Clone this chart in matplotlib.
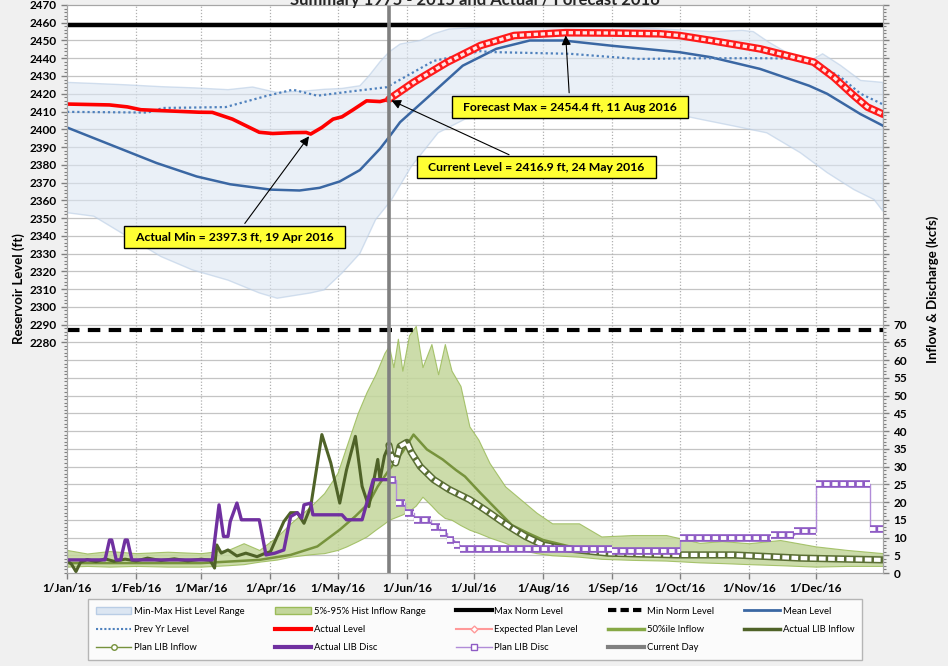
import numpy as np
import pandas as pd
import matplotlib
matplotlib.use("Agg")
import matplotlib.pyplot as plt
import matplotlib.dates as mdates
from matplotlib.patches import Patch
from matplotlib.lines import Line2D

plt.rcParams['font.family'] = ['Lato', 'DejaVu Sans']

def d(s):
    return pd.to_datetime('2016/' + s)

def dates(lst):
    return [d(s) for s in lst]

# ---- reservoir level (ft) ----
mean_dates = ['1/1', '1/20', '2/10', '2/28', '3/14', '4/1', '4/14', '4/23', '5/2', '5/11', '5/20',
              '5/24', '5/29', '6/11', '6/26', '7/11', '7/26', '8/10', '9/1', '10/1', '10/15',
              '11/6', '11/28', '12/6', '12/21', '12/31']
mean_level = [2401, 2391.5, 2381, 2373.4, 2369, 2366, 2365.5, 2367, 2370.6, 2377, 2389,
              2395.5, 2404, 2418.7, 2435.8, 2445.3, 2450, 2450, 2447, 2443.4, 2440.6,
              2434, 2424.5, 2420, 2408.5, 2402]

prev_dates = ['1/1', '2/6', '2/13', '3/12', '3/30', '4/11', '4/22', '5/7', '5/23', '6/13', '7/4',
              '7/8', '8/13', '9/12', '10/10', '11/10', '11/28', '12/12', '12/21', '12/31']
prev_level = [2409.8, 2409.4, 2412, 2412.5, 2418.7, 2422.3, 2418.9, 2421.3, 2423.7, 2438.5, 2444,
              2443.5, 2442.5, 2439.6, 2440, 2440, 2439.6, 2429.4, 2420, 2414]

actual_dates = ['1/1', '1/20', '1/28', '2/3', '2/29', '3/6', '3/15', '3/27', '4/2', '4/11', '4/17',
                '4/19', '4/24', '4/29', '5/3', '5/8', '5/14', '5/20', '5/24']
actual_level = [2414.2, 2413.7, 2412.6, 2411, 2409.6, 2409.5, 2405.7, 2398.3, 2397.6, 2398.1, 2398.2,
                2397.3, 2401, 2405.7, 2407, 2411, 2416, 2415.6, 2416.9]

fcst_dates = ['5/24', '6/4', '6/19', '7/4', '7/19', '8/11', '9/1', '9/22', '10/1', '10/15', '11/6',
              '11/30', '12/9', '12/18', '12/24', '12/31']
fcst_level = [2416.9, 2426.4, 2437.7, 2447.2, 2452.8, 2454.4, 2454.2, 2453.8, 2452.8, 2450, 2445.3,
              2437.8, 2429.3, 2418.9, 2412.5, 2408.5]

hist_max_dates = ['1/1', '1/13', '1/28', '2/12', '2/27', '3/13', '3/24', '4/1', '4/4', '4/16', '4/25',
                  '5/3', '5/11', '5/15', '5/20', '5/24', '5/29', '6/7', '6/13', '6/20', '7/4', '7/19',
                  '8/1', '9/1', '10/15', '10/29', '11/3', '11/10', '11/21', '11/27', '12/4', '12/12',
                  '12/21', '12/31']
hist_max = [2426.4, 2425.8, 2425, 2424, 2423.3, 2422.3, 2423.8, 2421.5, 2420.8, 2421.5, 2422.5,
            2423, 2424.5, 2430, 2438, 2443.5, 2448, 2450, 2453.8, 2456.5, 2457.5, 2458,
            2458.5, 2458, 2455, 2455.7, 2455, 2449, 2441, 2437.5, 2442.5, 2436,
            2427.5, 2426.4]
hist_min_dates = ['1/1', '1/13', '1/28', '2/12', '2/26', '3/13', '3/27', '4/4', '4/19', '4/25', '5/3',
                  '5/11', '5/18', '5/25', '6/3', '6/15', '6/27', '7/20', '8/20', '9/25', '10/10',
                  '10/25', '11/9', '11/24', '12/6', '12/18', '12/27', '12/31']
hist_min = [2353, 2351, 2339.6, 2328.3, 2320.8, 2315, 2307.8, 2304.8, 2307.8, 2309.5, 2319,
            2330, 2349, 2360, 2379, 2398, 2405.7, 2408.5, 2409, 2409.6, 2405.7,
            2401.9, 2398, 2386.8, 2375.6, 2366, 2360.4, 2353.8]

max_norm = 2459
min_norm = 2287
current_day = '5/24'

# ---- inflow & discharge (kcfs) ----
band_dates = ['1/1', '1/10', '1/20', '2/1', '2/15', '3/1', '3/13', '3/20', '3/27', '4/4', '4/10',
              '4/19', '4/25', '5/1', '5/5', '5/10', '5/14', '5/18', '5/22', '5/24', '5/26',
              '5/28', '5/30', '6/2', '6/5', '6/8', '6/12', '6/15', '6/18', '6/21', '6/25',
              '6/29', '7/3', '7/8', '7/15', '7/22', '7/29', '8/5', '8/17', '8/27', '9/10',
              '9/25', '10/10', '10/20', '11/1', '11/15', '12/1', '12/15', '12/31']
band_hi = [6.5, 5.5, 6.2, 5.6, 6, 5.6, 6.5, 8.4, 6.5, 10.3, 14,
           18.8, 22.5, 28.2, 35.7, 45, 51, 56, 62, 64, 58,
           66, 57, 67, 69.6, 58, 64.5, 56, 64.5, 57, 52.7,
           41.3, 37.6, 31, 24.4, 20.7, 17, 14, 14, 10.3, 10.7,
           10.7, 8.5, 9, 8.4, 9.3, 7.5, 6.5, 5.6]
band_lo = [1.8, 2, 1.8, 2, 1.8, 1.8, 2.2, 2.5, 3.2, 3.8, 4.6,
           5.3, 5.6, 6.5, 7.5, 9, 10.3, 12.2, 14, 15, 15.5,
           16, 16.5, 17.5, 19, 21.5, 19, 17, 15.5, 15, 13.5,
           12.2, 11.3, 10, 8.5, 6.5, 5.6, 5, 4.6, 4, 3.7,
           3.5, 3, 2.8, 2.5, 2.2, 1.8, 2, 2]

p50_dates = ['1/1', '3/1', '3/27', '4/10', '4/22', '5/2', '5/9', '5/15', '5/19', '5/24', '5/30',
             '6/4', '6/10', '6/17', '6/23', '6/27', '7/4', '7/11', '7/18', '7/25', '8/1',
             '8/16', '9/14', '10/13', '11/11', '12/31']
p50_inflow = [2.8, 2.8, 3.7, 5.1, 7.5, 12.2, 16, 19.7, 24.4, 29, 34,
              39, 34.8, 32, 29, 27.2, 22.5, 18, 13.5, 11.3, 9.3,
              7, 5.6, 4.6, 4.4, 4]

act_in_dates = ['1/1', '1/3', '1/5', '1/7', '1/10', '1/14', '1/18', '1/22', '1/27', '2/1', '2/6',
                '2/12', '2/18', '2/24', '3/1', '3/5', '3/7', '3/8', '3/10', '3/13', '3/17',
                '3/21', '3/26', '3/29', '4/1', '4/4', '4/7', '4/10', '4/13', '4/16', '4/19',
                '4/24', '4/28', '5/2', '5/5', '5/9', '5/12', '5/15', '5/19', '5/20', '5/22', '5/24']
act_inflow = [3.5, 2.5, 0.4, 3, 3.8, 3.2, 4, 3.3, 3.9, 3.4, 4.2,
              3.5, 4, 3.4, 3.9, 3.6, 1.4, 7.9, 5.6, 6.5, 4.8,
              5.6, 4.6, 5.4, 6, 10.3, 14.5, 17, 17, 14, 18.7,
              39, 31, 19.7, 29, 38.5, 24.4, 18.7, 32, 26.3, 33, 36]

plan_in_dates = ['5/24', '5/25', '5/27', '5/29', '6/1', '6/3', '6/7', '6/13', '6/20', '6/29', '7/6',
                 '7/17', '7/24', '8/1', '8/9', '8/30', '9/30', '10/25', '11/24', '12/31']
plan_inflow = [36, 33, 31, 35.7, 36.8, 34, 30, 26.3, 23.5, 20.7, 17.8,
               13, 10.3, 7.9, 7, 5.6, 5.1, 5.1, 4.2, 3.7]

act_disc_dates = ['1/1', '1/18', '1/20', '1/21', '1/23', '1/25', '1/27', '1/28', '1/30', '3/6', '3/9',
                  '3/11', '3/13', '3/14', '3/17', '3/19', '3/27', '3/30', '4/3', '4/7', '4/10',
                  '4/13', '4/15', '4/16', '4/19', '4/20', '5/3', '5/5', '5/12', '5/17', '5/24']
act_disc = [3.7, 3.7, 9.3, 9.3, 3.7, 3.7, 9.3, 9.3, 3.7, 3.7, 19.2,
            10.3, 10.3, 14.5, 19.7, 15, 15, 5.1, 5.6, 6.5, 15.9,
            17, 15.5, 19.2, 19.7, 16.4, 16.4, 15, 15, 26.3, 26.3]

# plan discharge: steps (start, end, kcfs)
plan_disc_start = ['5/24', '5/27', '5/31', '6/4', '6/12', '6/16', '6/19', '6/22', '6/25', '9/1',
                   '10/1', '11/11', '11/21', '12/1', '12/25']
plan_disc_end = ['5/27', '5/31', '6/4', '6/12', '6/16', '6/19', '6/22', '6/25', '9/1', '10/1',
                 '11/11', '11/21', '12/1', '12/25', '12/31']
plan_disc = [26.3, 19.7, 17, 15, 13, 11.3, 9.3, 7.9, 6.8, 6.3,
             10, 10.7, 11.9, 25, 12.5]

# ---------------- figure ----------------
fig = plt.figure(figsize=(9.48, 6.66), dpi=100, facecolor='#F0F0F0')
ax2 = fig.add_axes([0.0707, 0.1396, 0.8607, 0.8529])
ax = ax2.twinx()
ax.set_zorder(ax2.get_zorder() + 1)
ax.patch.set_visible(False)
ax2.set_facecolor('white')
ax.yaxis.tick_left()
ax.yaxis.set_label_position('left')
ax2.yaxis.tick_right()
ax2.yaxis.set_label_position('right')

ax.set_xlim(d('1/1'), d('12/31'))
ax.set_ylim(2150, 2470)
ax2.set_ylim(0, 160)

# light grid: every 5 kcfs (= 10 ft) and every month start
for v in np.arange(5, 160, 5):
    ax2.axhline(v, color='#C4C4C4', lw=0.9, zorder=0.5)
for m in pd.date_range('2016-02-01', '2016-12-01', freq='MS'):
    ax2.axvline(m, color='#B0B0B0', lw=0.9, ls=(0, (1, 1.5)), zorder=0.5)

# inflow side (drawn underneath)
ax2.fill_between(dates(band_dates), band_lo, band_hi, facecolor='#C3D69B', edgecolor='#9BBB59',
                 lw=0.8, alpha=0.85)
ax2.plot(dates(p50_dates), p50_inflow, color='#77933C', lw=1.8)
ax2.plot(dates(act_in_dates), act_inflow, color='#4F6228', lw=2.2)
ax2.plot(dates(plan_in_dates), plan_inflow, color='#5A6E34', lw=5.2, solid_capstyle='round')
ax2.plot(dates(plan_in_dates), plan_inflow, color='white', lw=3.0, dashes=(1.6, 0.6))
ax2.plot(dates(act_disc_dates), act_disc, color='#7030A0', lw=2.4)
ax2.step(dates(plan_disc_start), plan_disc, where='post', color='#B18CD8', lw=1)
ax2.hlines(plan_disc, dates(plan_disc_start), dates(plan_disc_end), color='#8E5BC4', lw=5.5)
ax2.hlines(plan_disc, dates(plan_disc_start), dates(plan_disc_end), color='white', lw=2.8,
           linestyles=(0, (1.4, 0.7)))

# level side (drawn on top)
mx = list(zip(dates(hist_max_dates), hist_max))
mn = list(zip(dates(hist_min_dates), hist_min))[::-1]
poly = mx + mn
ax.fill([p[0] for p in poly], [p[1] for p in poly], facecolor='#DCE6F2', edgecolor='#B9CDE5',
        lw=1, alpha=0.6)
ax.axhline(max_norm, color='black', lw=3.2)
ax.axhline(min_norm, color='black', lw=3, dashes=(3, 2))
ax.plot(dates(mean_dates), mean_level, color='#3A67A3', lw=1.8)
ax.plot(dates(prev_dates), prev_level, color='#4F81BD', lw=1.6, ls=(0, (1, 1.3)))
ax.plot(dates(actual_dates), actual_level, color='#FF0000', lw=2.6)
ax.plot(dates(fcst_dates), fcst_level, color='#FF1A1A', lw=5.5, solid_capstyle='round')
ax.plot(dates(fcst_dates), fcst_level, color='#FFE5E5', lw=2.4, dashes=(1.3, 0.8))
ax.axvline(d(current_day), color='#808080', lw=2.6)

# annotations
box = dict(boxstyle='square,pad=0.45', fc='#FFFF33', ec='black', lw=1)
aprops = dict(arrowstyle='-|>', color='black', lw=0.8, mutation_scale=14)
ax.annotate('  Actual Min = 2397.3 ft, 19 Apr 2016  ', xy=(d('4/19'), 2397.3),
            xytext=(d('3/16'), 2339.2), ha='center', va='center', fontsize=8.8, weight='bold',
            bbox=box, arrowprops=aprops)
ax.annotate('  Current Level = 2416.9 ft, 24 May 2016  ', xy=(d('5/24'), 2416.9),
            xytext=(d('7/29'), 2378.5), ha='center', va='center', fontsize=8.8, weight='bold',
            bbox=box, arrowprops=aprops)
ax.annotate('  Forecast Max = 2454.4 ft, 11 Aug 2016  ', xy=(d('8/11'), 2454.4),
            xytext=(d('8/13'), 2412.5), ha='center', va='center', fontsize=8.8, weight='bold',
            bbox=box, arrowprops=aprops)

# axes, ticks
ax.set_yticks(np.arange(2280, 2471, 10))
ax.set_yticks(np.arange(2150, 2471, 2), minor=True)
ax2.set_yticks(np.arange(0, 161, 1), minor=True)
ax2.xaxis.set_major_locator(mdates.MonthLocator())
ax2.xaxis.set_major_formatter(mdates.DateFormatter('1/%b/%y'))
ax2.set_yticks(np.arange(0, 161, 5))
ax2.set_yticklabels([str(v) if v <= 70 else '' for v in range(0, 161, 5)])
for a in (ax, ax2):
    a.tick_params(axis='both', which='major', labelsize=8.5, length=4, width=1, color='#808080')
    a.tick_params(axis='y', which='minor', length=2.5, width=0.8, color='#808080')
    for lab in a.get_yticklabels() + a.get_xticklabels():
        lab.set_fontweight('bold')
    for s in a.spines.values():
        s.set_color('#A6A6A6')
ax.set_ylabel('Reservoir Level (ft)', fontsize=9.5, weight='bold', labelpad=3)
ax2.set_ylabel('Inflow & Discharge (kcfs)', fontsize=9.5, weight='bold', labelpad=14)

fig.text(0.501, 0.993, 'Summary 1975 - 2015 and Actual / Forecast 2016', ha='center',
         va='baseline', fontsize=12, weight='bold', color='#262626')

# legend (row-major order, re-sorted for matplotlib's column filling)
items = [
    (Patch(fc='#DCE6F2', ec='#B9CDE5'), 'Min-Max Hist Level Range'),
    (Patch(fc='#C3D69B', ec='#9BBB59'), '5%-95% Hist Inflow Range'),
    (Line2D([], [], color='black', lw=3), 'Max Norm Level'),
    (Line2D([], [], color='black', lw=3, dashes=(2, 1)), 'Min Norm Level'),
    (Line2D([], [], color='#3A67A3', lw=2), 'Mean Level'),
    (Line2D([], [], color='#4F81BD', lw=1.5, ls=(0, (1, 1))), 'Prev Yr Level'),
    (Line2D([], [], color='#FF0000', lw=3), 'Actual Level'),
    (Line2D([], [], color='#FF9999', lw=1.5, marker='D', ms=3.5, mfc='white'), 'Expected Plan Level'),
    (Line2D([], [], color='#86A845', lw=2.5), '50%ile Inflow'),
    (Line2D([], [], color='#4F6228', lw=2.5), 'Actual LIB Inflow'),
    (Line2D([], [], color='#76923C', lw=1, marker='o', ms=4, mfc='white'), 'Plan LIB Inflow'),
    (Line2D([], [], color='#7030A0', lw=3), 'Actual LIB Disc'),
    (Line2D([], [], color='#B18CD8', lw=1, marker='s', ms=4, mfc='white', mec='#8E5BC4'), 'Plan LIB Disc'),
    (Line2D([], [], color='#808080', lw=3), 'Current Day'),
]
ncol = 5
order = [r * ncol + c for c in range(ncol) for r in range(3) if r * ncol + c < len(items)]
leg = fig.legend([items[i][0] for i in order], [items[i][1] for i in order], ncol=ncol,
                 loc='lower left', bbox_to_anchor=(88 / 948, 6 / 666, 774 / 948, 64 / 666),
                 mode='expand', fontsize=6.8, frameon=True, fancybox=False, edgecolor='#A6A6A6',
                 handlelength=3.8, handletextpad=0.3, labelspacing=1.0, borderaxespad=0,
                 borderpad=0.8)
leg.get_frame().set_linewidth(1)
leg.get_frame().set_facecolor('white')

fig.savefig('out.png', dpi=100, facecolor=fig.get_facecolor())
